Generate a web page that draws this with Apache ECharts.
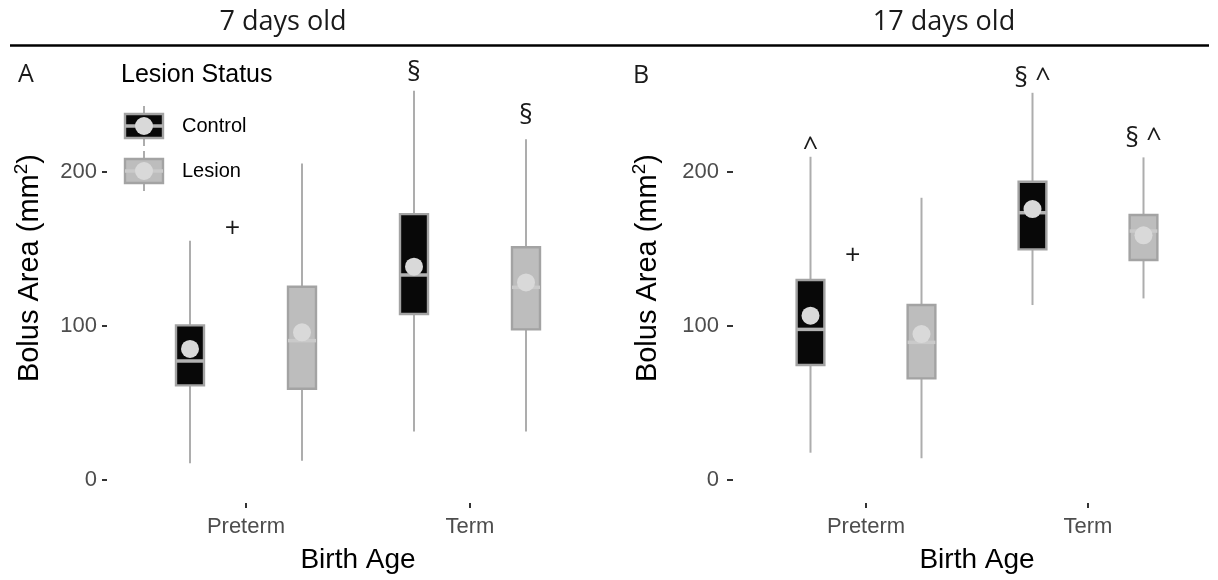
<!DOCTYPE html>
<html><head><meta charset="utf-8">
<script src="https://cdn.jsdelivr.net/npm/echarts@6/dist/echarts.min.js"></script>
<style>html,body{margin:0;padding:0;background:#fff}#c{width:1218px;height:580px}</style>
</head><body><div id="c"></div>
<script>
// ---------- data ----------
const categories = ['Preterm', 'Term'];
const groups = ['Control', 'Lesion'];
const panelTitles = ['7 days old', '17 days old'];
const panelLetters = ['A', 'B'];
const yTicks = [0, 100, 200];
// [min, q1, median, q3, max] per category (Preterm, Term)
const day7Control = [[10.8, 61.4, 77.2, 100.3, 155.2], [31.4, 107.7, 133, 172.5, 252.5]];
const day7Lesion  = [[12.5, 59.2, 90.4, 125.4, 205.4], [31.4, 97.7, 125, 151, 221]];
const day7ControlMean = [85, 138.4];
const day7LesionMean  = [95.8, 128.2];
const day17Control = [[17.7, 74.6, 97.7, 129.7, 209.7], [113.5, 149.6, 173.4, 193.5, 251.2]];
const day17Lesion  = [[14.1, 65.9, 89.3, 113.5, 183.1], [117.8, 142.7, 161.5, 171.9, 209.3]];
const day17ControlMean = [106.6, 175.8];
const day17LesionMean  = [94.7, 158.7];
// annotations: [category, position, value, text]
const day7Notes = [['Preterm', 'between', 162.8, '+'], ['Term', 'Control', 264, '§'], ['Term', 'Lesion', 236, '§']];
const day17Notes = [['Preterm', 'Control', 215, '^'], ['Preterm', 'between', 145.3, '+'], ['Term', 'Control', 260, '§ ^'], ['Term', 'Lesion', 221, '§ ^']];

// ---------- styles ----------
const SANS = 'Liberation Sans, Arial, sans-serif';
const OPEN = 'Open Sans, Noto Sans, sans-serif';
const posOffset = { Control: -0.25, Lesion: 0.25, between: -0.06 };
const fills = { Control: '#080808', Lesion: '#bdbdbd' };
const medians = { Control: '#b3b3b3', Lesion: '#cacaca' };
const boxStroke = '#a3a3a3';
const whiskerColor = '#adadad';
const meanColor = '#d9d9d9';

const chart = echarts.init(document.getElementById('c'), null, { renderer: 'canvas' });

function boxRender(group) {
  return function (params, api) {
    const cat = api.value(0);
    const band = api.size([1, 0])[0];
    const cx = api.coord([cat, 0])[0] + posOffset[group] * band;
    const y = i => api.coord([cat, api.value(i)])[1];
    const yMin = y(1), yQ1 = y(2), yMed = y(3), yQ3 = y(4), yMax = y(5), yMean = y(6);
    const bw = band * 0.125;
    return {
      type: 'group',
      children: [
        { type: 'line', shape: { x1: cx, y1: yMax, x2: cx, y2: yQ3 }, style: { stroke: whiskerColor, lineWidth: 2 } },
        { type: 'line', shape: { x1: cx, y1: yQ1, x2: cx, y2: yMin }, style: { stroke: whiskerColor, lineWidth: 2 } },
        { type: 'rect', shape: { x: cx - bw / 2, y: yQ3, width: bw, height: yQ1 - yQ3 }, style: { fill: fills[group], stroke: boxStroke, lineWidth: 2.4 } },
        { type: 'line', shape: { x1: cx - bw / 2, y1: yMed, x2: cx + bw / 2, y2: yMed }, style: { stroke: medians[group], lineWidth: 3.5 } },
        { type: 'circle', shape: { cx: cx, cy: yMean, r: 9 }, style: { fill: meanColor } }
      ]
    };
  };
}

function noteRender(notes) {
  return function (params, api) {
    const n = notes[params.dataIndex];
    const cat = api.value(0);
    const band = api.size([1, 0])[0];
    const cx = api.coord([cat, 0])[0] + posOffset[n[1]] * band;
    const cy = api.coord([cat, api.value(1)])[1];
    return { type: 'text', x: cx, y: cy, style: { text: n[3], fontSize: 27, fontFamily: OPEN, fill: '#1a1a1a', align: 'center', verticalAlign: 'middle' } };
  };
}

const panels = [
  { control: day7Control, lesion: day7Lesion, cMean: day7ControlMean, lMean: day7LesionMean, notes: day7Notes, left: 134, width: 448, yOffset: 27, tickLen: 5, labMargin: 10, nameGap: 60 },
  { control: day17Control, lesion: day17Lesion, cMean: day17ControlMean, lMean: day17LesionMean, notes: day17Notes, left: 755, width: 444, yOffset: 22, tickLen: 6, labMargin: 14, nameGap: 68 }
];

const grids = [], xAxes = [], yAxes = [], series = [];
panels.forEach((p, k) => {
  grids.push({ left: p.left, width: p.width, top: 33, height: 470.1 });
  xAxes.push({
    type: 'category', gridIndex: k, data: categories, boundaryGap: true, position: 'bottom',
    axisLine: { show: false, onZero: false },
    axisTick: { show: true, length: 5, alignWithLabel: true, lineStyle: { color: '#333', width: 2 } },
    axisLabel: { fontSize: 22, fontFamily: SANS, color: '#4d4d4d', margin: 13 },
    name: 'Birth Age', nameLocation: 'middle', nameGap: 43,
    nameTextStyle: { fontSize: 28, fontFamily: SANS, color: '#000' },
    splitLine: { show: false }
  });
  yAxes.push({
    type: 'value', gridIndex: k, min: -15, max: 290, offset: p.yOffset,
    axisLine: { show: false },
    axisTick: { show: true, length: p.tickLen, customValues: yTicks, lineStyle: { color: '#333', width: 2 } },
    axisLabel: { fontSize: 22, fontFamily: SANS, color: '#4d4d4d', margin: p.labMargin, customValues: yTicks },
    splitLine: { show: false },
    name: '{a|Bolus Area (mm}{s|2}{a|)}', nameLocation: 'middle', nameGap: p.nameGap,
    nameTextStyle: {
      fontFamily: SANS, color: '#000',
      rich: {
        a: { fontSize: 29, fontFamily: SANS, color: '#000', lineHeight: 35 },
        s: { fontSize: 19, fontFamily: SANS, color: '#000', lineHeight: 19, verticalAlign: 'top' }
      }
    }
  });
  const dims = ['cat', 'min', 'q1', 'med', 'q3', 'max', 'mean'];
  [['Control', p.control, p.cMean], ['Lesion', p.lesion, p.lMean]].forEach(([g, vals, means]) => {
    series.push({
      type: 'custom', name: g, xAxisIndex: k, yAxisIndex: k,
      dimensions: dims,
      encode: { x: 0, y: [1, 2, 3, 4, 5, 6] },
      renderItem: boxRender(g),
      data: vals.map((v, i) => [i].concat(v, [means[i]])),
      silent: true
    });
  });
  series.push({
    type: 'custom', name: 'notes' + k, xAxisIndex: k, yAxisIndex: k,
    encode: { x: 0, y: 1 },
    renderItem: noteRender(p.notes),
    data: p.notes.map(n => [categories.indexOf(n[0]), n[2]]),
    silent: true
  });
});

// legend glyph (decoration)
function legendKey(cy, group, label) {
  const cx = 144;
  return [
    { type: 'line', shape: { x1: cx, y1: cy - 20, x2: cx, y2: cy + 20 }, style: { stroke: whiskerColor, lineWidth: 2 } },
    { type: 'rect', shape: { x: cx - 19, y: cy - 12, width: 38, height: 24 }, style: { fill: fills[group], stroke: boxStroke, lineWidth: 2.4 } },
    { type: 'line', shape: { x1: cx - 19, y1: cy, x2: cx + 19, y2: cy }, style: { stroke: medians[group], lineWidth: 3.5 } },
    { type: 'circle', shape: { cx: cx, cy: cy, r: 9 }, style: { fill: meanColor } },
    { type: 'text', x: 182, y: cy, style: { text: label, fontSize: 20, fontFamily: SANS, fill: '#000', align: 'left', verticalAlign: 'middle' } }
  ];
}

const graphic = [
  { type: 'line', shape: { x1: 10, y1: 45.5, x2: 1209, y2: 45.5 }, style: { stroke: '#000', lineWidth: 2.6 } },
  { type: 'text', x: 283, y: 22, style: { text: panelTitles[0], fontSize: 27, fontFamily: OPEN, fill: '#1a1a1a', align: 'center', verticalAlign: 'middle' } },
  { type: 'text', x: 944, y: 22, style: { text: panelTitles[1], fontSize: 27, fontFamily: OPEN, fill: '#1a1a1a', align: 'center', verticalAlign: 'middle' } },
  { type: 'text', x: 26, y: 75, style: { text: panelLetters[0], fontSize: 25, fontFamily: OPEN, fill: '#1a1a1a', align: 'center', verticalAlign: 'middle' } },
  { type: 'text', x: 641, y: 76, style: { text: panelLetters[1], fontSize: 25, fontFamily: OPEN, fill: '#1a1a1a', align: 'center', verticalAlign: 'middle' } },
  { type: 'text', x: 121, y: 75, style: { text: 'Lesion Status', fontSize: 25, fontFamily: SANS, fill: '#000', align: 'left', verticalAlign: 'middle' } }
].concat(legendKey(126, 'Control', groups[0]), legendKey(171, 'Lesion', groups[1]));

chart.setOption({
  backgroundColor: '#fff',
  animation: false,
  grid: grids,
  xAxis: xAxes,
  yAxis: yAxes,
  series: series,
  graphic: { elements: graphic }
});
</script>
</body></html>
